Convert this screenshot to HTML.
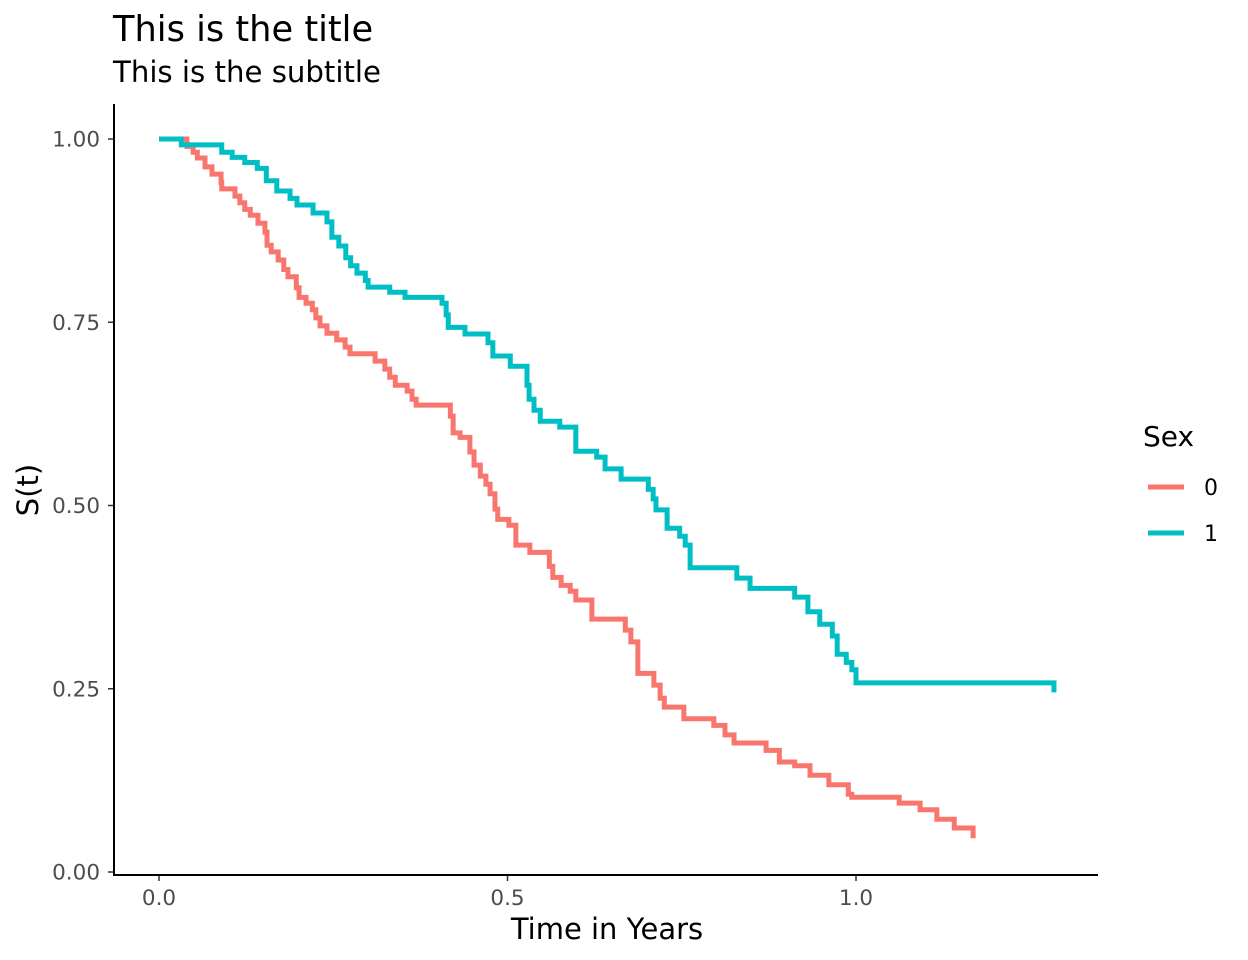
<!DOCTYPE html>
<html><head><meta charset="utf-8"><style>
html,body{margin:0;padding:0;background:#fff;}
svg{display:block;font-family:"DejaVu Sans","Liberation Sans",sans-serif;}
</style></head><body>
<svg id="chart" width="1248" height="960" viewBox="0 0 1248 960">
<text x="113" y="41" font-size="35.2" fill="#000">This is the title</text>
<text x="113" y="82" font-size="29.2" fill="#000">This is the subtitle</text>
<g id="xticks"></g>
<g id="yticks"></g>
<g id="lines"></g>
<line x1="114" y1="104" x2="114" y2="875" stroke="#000" stroke-width="2"/>
<line x1="113" y1="875" x2="1098" y2="875" stroke="#000" stroke-width="2"/>
<text x="607" y="939" font-size="29" text-anchor="middle">Time in Years</text>
<text x="38" y="490" font-size="29" text-anchor="middle" transform="rotate(-90 38 490)">S(t)</text>
<g>
<text x="1143" y="446" font-size="28">Sex</text>
<g><line x1="1148" y1="487" x2="1184" y2="487" stroke="#F8766D" stroke-width="5"/><text x="1204" y="495" font-size="22">0</text></g>
<g><line x1="1148" y1="533" x2="1184" y2="533" stroke="#00BFC4" stroke-width="5"/><text x="1204" y="541" font-size="22">1</text></g>
</g>
</svg>
<script>
const xTicks=[0,0.5,1.0];
const xTickLabels=["0.0","0.5","1.0"];
const yTicks=[0,0.25,0.5,0.75,1.0];
const yTickLabels=["0.00","0.25","0.50","0.75","1.00"];
const times0=[0,0.040,0.049,0.055,0.066,0.076,0.089,0.090,0.109,0.116,0.123,0.131,0.142,0.152,0.155,0.161,0.171,0.179,0.185,0.197,0.201,0.211,0.220,0.225,0.231,0.241,0.255,0.267,0.274,0.310,0.324,0.331,0.339,0.356,0.363,0.369,0.418,0.422,0.432,0.446,0.452,0.461,0.469,0.475,0.482,0.486,0.502,0.512,0.532,0.560,0.565,0.577,0.590,0.598,0.621,0.669,0.677,0.687,0.710,0.719,0.725,0.753,0.796,0.812,0.825,0.871,0.890,0.912,0.934,0.961,0.989,0.994,1.062,1.092,1.116,1.141,1.168];
const surv0=[1.0,0.990,0.982,0.974,0.962,0.952,0.941,0.932,0.922,0.913,0.904,0.896,0.885,0.873,0.855,0.846,0.835,0.822,0.812,0.797,0.784,0.776,0.767,0.756,0.745,0.735,0.726,0.716,0.707,0.697,0.686,0.675,0.664,0.656,0.645,0.637,0.622,0.599,0.593,0.573,0.555,0.540,0.529,0.516,0.495,0.481,0.473,0.446,0.436,0.417,0.402,0.391,0.383,0.371,0.345,0.330,0.314,0.271,0.255,0.237,0.225,0.209,0.200,0.187,0.176,0.166,0.150,0.145,0.132,0.119,0.106,0.102,0.094,0.085,0.072,0.060,0.046];
const times1=[0,0.032,0.090,0.105,0.123,0.141,0.154,0.169,0.188,0.198,0.221,0.241,0.248,0.258,0.268,0.275,0.284,0.296,0.300,0.331,0.353,0.406,0.412,0.415,0.439,0.472,0.479,0.504,0.528,0.531,0.538,0.547,0.575,0.598,0.628,0.640,0.663,0.702,0.709,0.713,0.729,0.747,0.755,0.762,0.829,0.848,0.912,0.931,0.948,0.966,0.973,0.986,0.994,1.000,1.284];
const surv1=[1.0,0.992,0.982,0.975,0.968,0.960,0.943,0.929,0.919,0.910,0.899,0.887,0.866,0.854,0.838,0.827,0.817,0.807,0.798,0.791,0.784,0.776,0.760,0.743,0.734,0.722,0.704,0.690,0.664,0.645,0.630,0.615,0.607,0.574,0.566,0.550,0.536,0.522,0.509,0.494,0.469,0.458,0.446,0.415,0.401,0.387,0.375,0.355,0.338,0.322,0.297,0.286,0.276,0.258,0.245];
const NS="http://www.w3.org/2000/svg";
function xs(t){return 159+t*697;}
function ys(s){return 872-s*733;}
const xg=document.getElementById('xticks'),yg=document.getElementById('yticks'),lg=document.getElementById('lines');
xTicks.forEach((v,i)=>{
 const l=document.createElementNS(NS,'line');
 l.setAttribute('x1',xs(v));l.setAttribute('x2',xs(v));l.setAttribute('y1',875);l.setAttribute('y2',881);
 l.setAttribute('stroke','#333');l.setAttribute('stroke-width','1.5');
 
 
 xg.appendChild(l);
 const t=document.createElementNS(NS,'text');
 t.setAttribute('x',xs(v));t.setAttribute('y',905);t.setAttribute('font-size','21.5');t.setAttribute('text-anchor','middle');t.setAttribute('fill','#4d4d4d');
 t.textContent=xTickLabels[i];
 
 
 xg.appendChild(t);
});
yTicks.forEach((v,i)=>{
 const l=document.createElementNS(NS,'line');
 l.setAttribute('x1',108);l.setAttribute('x2',114);l.setAttribute('y1',ys(v));l.setAttribute('y2',ys(v));
 l.setAttribute('stroke','#333');l.setAttribute('stroke-width','1.5');
 
 
 yg.appendChild(l);
 const t=document.createElementNS(NS,'text');
 t.setAttribute('x',100);t.setAttribute('y',ys(v)+7.5);t.setAttribute('font-size','21.5');t.setAttribute('text-anchor','end');t.setAttribute('fill','#4d4d4d');
 t.textContent=yTickLabels[i];
 
 
 yg.appendChild(t);
});
function stepPath(T,S){
 let d='M'+xs(T[0])+','+ys(S[0]);
 for(let i=1;i<T.length;i++){d+=' H'+xs(T[i])+' V'+ys(S[i]);}
 return d;
}
[[times0,surv0,'#F8766D','km-curve-sex-0'],[times1,surv1,'#00BFC4','km-curve-sex-1']].forEach(a=>{
 const p=document.createElementNS(NS,'path');
 p.setAttribute('d',stepPath(a[0],a[1]));
 p.setAttribute('fill','none');p.setAttribute('stroke',a[2]);p.setAttribute('stroke-width','5');
 
 
 lg.appendChild(p);
});
</script>
</body></html>
